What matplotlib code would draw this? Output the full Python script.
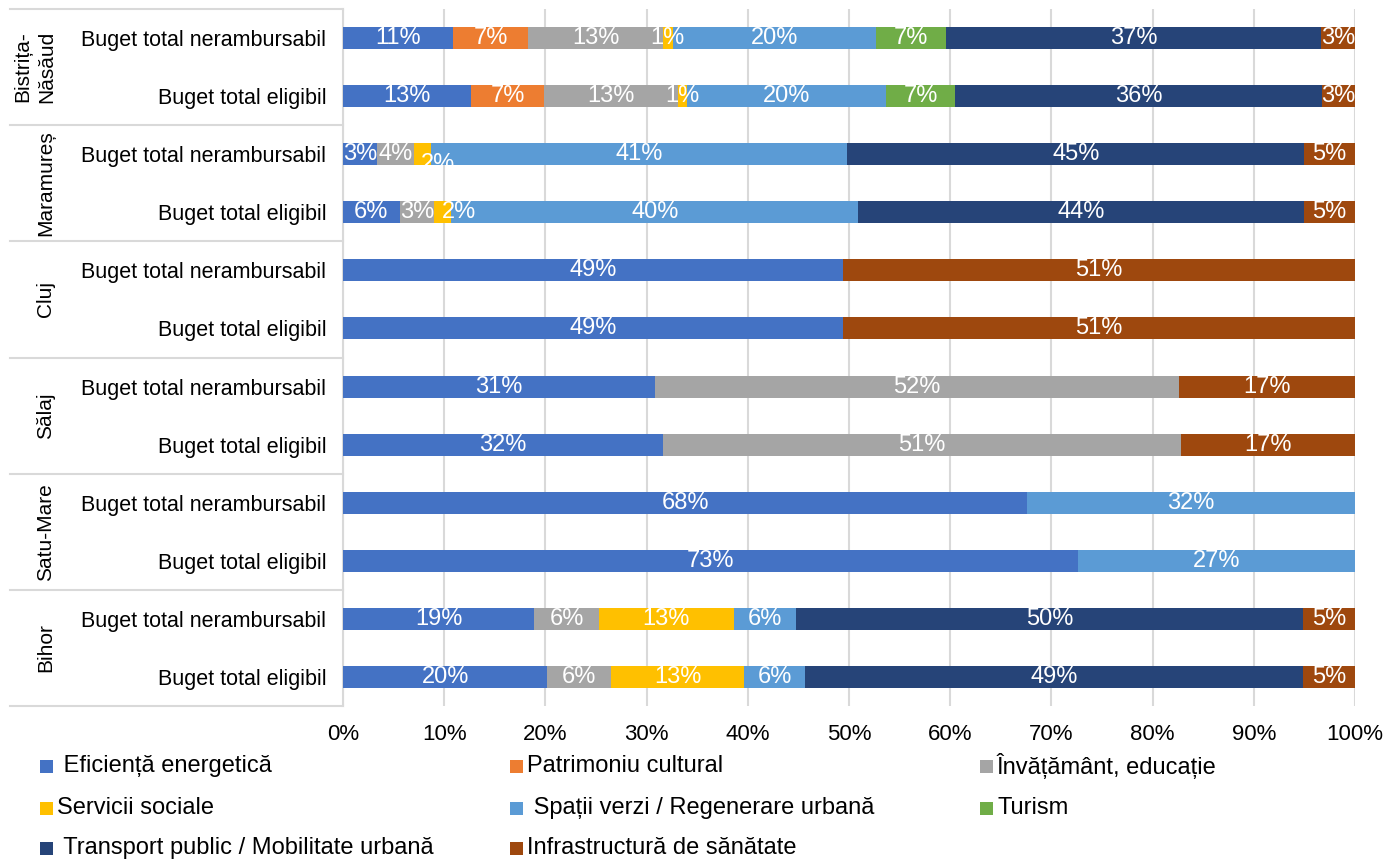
import matplotlib
matplotlib.use("Agg")
import matplotlib.pyplot as plt
from matplotlib.patches import Rectangle
from matplotlib.transforms import blended_transform_factory
import numpy as np

plt.rcParams['font.family'] = ['Liberation Sans', 'DejaVu Sans']

# ---- data (rows top to bottom) ----
groups = ["Bistrița-\nNăsăud", "Maramureș", "Cluj", "Sălaj", "Satu-Mare", "Bihor"]
row_labels = ["Buget total nerambursabil", "Buget total eligibil"] * 6

series_names = [" Eficiență energetică", "Patrimoniu cultural", "Învățământ, educație",
                "Servicii sociale", " Spații verzi / Regenerare urbană", "Turism",
                " Transport public / Mobilitate urbană", "Infrastructură de sănătate"]
series_colors = ["#4472C4", "#ED7D31", "#A5A5A5", "#FFC000", "#5B9BD5", "#70AD47",
                 "#264478", "#9E480E"]

eficienta  = [10.9, 12.6, 3.4, 5.6, 49.4, 49.4, 30.8, 31.6, 67.6, 72.6, 18.9, 20.2]
patrimoniu = [7.4, 7.3, 0, 0, 0, 0, 0, 0, 0, 0, 0, 0]
invatamant = [13.3, 13.2, 3.6, 3.4, 0, 0, 51.8, 51.2, 0, 0, 6.4, 6.3]
servicii   = [1.0, 0.9, 1.7, 1.7, 0, 0, 0, 0, 0, 0, 13.3, 13.1]
spatii     = [20.1, 19.7, 41.1, 40.2, 0, 0, 0, 0, 32.4, 27.4, 6.2, 6.1]
turism     = [6.9, 6.8, 0, 0, 0, 0, 0, 0, 0, 0, 0, 0]
transport  = [37.0, 36.2, 45.2, 44.1, 0, 0, 0, 0, 0, 0, 50.1, 49.2]
sanatate   = [3.4, 3.3, 5.0, 5.0, 50.6, 50.6, 17.4, 17.2, 0, 0, 5.1, 5.1]

series_values = [eficienta, patrimoniu, invatamant, servicii, spatii, turism, transport, sanatate]
xticks = [0, 10, 20, 30, 40, 50, 60, 70, 80, 90, 100]

# label nudges (series index, row) -> (dx in %, dy in rows), as in the reference
label_nudge = {(3, 2): (1.5, 0.17), (3, 3): (1.6, 0.0)}

# ---- figure ----
W, H = 1390, 861
fig = plt.figure(figsize=(W / 100, H / 100), dpi=100)
ax_left, ax_right, ax_top, ax_bot = 343, 1355, 9, 706
ax = fig.add_axes([ax_left / W, 1 - ax_bot / H, (ax_right - ax_left) / W, (ax_bot - ax_top) / H])

n = len(row_labels)
y = np.arange(n)
left = np.zeros(n)
bar_h = 0.38
for si, (vals, col) in enumerate(zip(series_values, series_colors)):
    vals = np.array(vals, dtype=float)
    bars = ax.barh(y, vals, left=left, height=bar_h, color=col, edgecolor='none', zorder=3)
    for i, v in enumerate(vals):
        if v > 0:
            dx, dy = label_nudge.get((si, i), (0, 0))
            ax.text(left[i] + v / 2 + dx, i + dy, f"{v:.0f}%", ha='center', va='center',
                    color='white', fontsize=17, zorder=4)
    left += vals

ax.set_xlim(0, 100)
ax.set_ylim(n - 0.5, -0.5)
ax.set_xticks(xticks)
ax.set_xticklabels([f"{t}%" for t in xticks], fontsize=16)
ax.set_yticks(y)
ax.set_yticklabels(row_labels, fontsize=15.5)
ax.tick_params(axis='x', length=0, pad=13)
ax.tick_params(axis='y', length=0, pad=12)
ax.grid(axis='x', color='#D9D9D9', linewidth=1.5, zorder=0)
for s in ['top', 'right', 'bottom']:
    ax.spines[s].set_visible(False)
ax.spines['left'].set_color('#D9D9D9')
ax.spines['left'].set_linewidth(1.5)

# group separators and group labels
trans = blended_transform_factory(ax.transAxes, ax.transData)
x0 = (10 - ax_left) / (ax_right - ax_left)
for k in range(len(groups) + 1):
    yy = -0.5 + 2 * k
    ax.plot([x0, 0], [yy, yy], transform=trans, color='#D9D9D9', linewidth=1.5,
            clip_on=False, zorder=1)
for k, g in enumerate(groups):
    xc = 35 if "\n" in g else 46
    ax.text((xc - ax_left) / (ax_right - ax_left), 2 * k + 0.5, g, transform=trans,
            rotation=90, ha='center', va='center', fontsize=15, linespacing=1.3)

# legend (manual placement)
col_x = [40, 510, 980]
row_y = [766, 808, 848]
sq = 13
for i, (name, col) in enumerate(zip(series_names, series_colors)):
    r, c = divmod(i, 3)
    mx, my = col_x[c], row_y[r]
    fig.add_artist(Rectangle((mx / W, 1 - (my + sq / 2) / H), sq / W, sq / H,
                             transform=fig.transFigure, facecolor=col, edgecolor='none'))
    fig.text((mx + sq + 4) / W, 1 - my / H, name, ha='left', va='center', fontsize=17)

fig.savefig("out.png", dpi=100)
